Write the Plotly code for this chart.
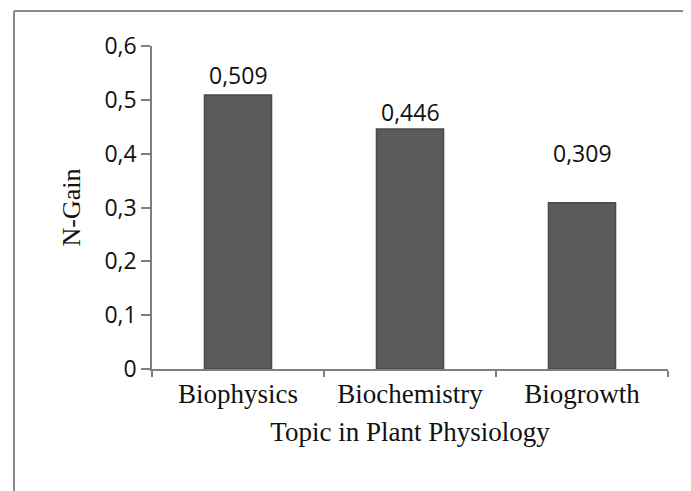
import plotly.graph_objects as go

topics = ["Biophysics", "Biochemistry", "Biogrowth"]
n_gain = [0.509, 0.446, 0.309]
y_ticks = [0, 0.1, 0.2, 0.3, 0.4, 0.5, 0.6]

# the page body adds an 8px margin, so the figure is drawn 8px smaller
OFF = 8
W, H = 691 - OFF, 491 - OFF
L, R, T, B = 152 - OFF, 23, 46 - OFF, 122
pw, ph = W - L - R, H - T - B

# label heights above the bars, as in the source figure
label_shift = [20, 17, 50]

axis_grey = "#7f7f7f"

fig = go.Figure()
fig.add_trace(go.Bar(
    x=topics,
    y=n_gain,
    marker=dict(color="#5b5b5b", line=dict(color="#4a4a4a", width=1.5)),
    width=0.39,
))

for t, v, s in zip(topics, n_gain, label_shift):
    fig.add_annotation(
        x=t, y=v, yshift=s, yanchor="middle",
        text=f"{v:.3f}".replace(".", ","),
        showarrow=False,
        font=dict(family="Open Sans", size=23, color="#111"),
    )

# outer chart frame (left and top edges visible in the reference)
fx = (14 - OFF - L) / pw
fy = (H - B - (11 - OFF)) / ph
fig.add_shape(type="line", xref="paper", yref="paper",
              x0=fx, x1=(W - L) / pw + 0.02, y0=fy, y1=fy,
              line=dict(color="#8a8a8a", width=2))
fig.add_shape(type="line", xref="paper", yref="paper",
              x0=fx, x1=fx, y0=fy, y1=-B / ph - 0.02,
              line=dict(color="#8a8a8a", width=2))

fig.update_layout(
    width=W, height=H,
    margin=dict(l=L, r=R, t=T, b=B),
    plot_bgcolor="white",
    paper_bgcolor="white",
    separators=",.",
    showlegend=False,
    xaxis=dict(
        automargin=False,
        showline=True, linecolor=axis_grey, linewidth=1.5,
        ticks="outside", ticklen=6, tickcolor=axis_grey, tickwidth=1.5,
        tickson="boundaries",
        tickfont=dict(family="Liberation Serif", size=27, color="#111"),
        title=dict(text="Topic in Plant Physiology",
                   font=dict(family="Liberation Serif", size=27, color="#111"),
                   standoff=14),
    ),
    yaxis=dict(
        automargin=False,
        range=[0, 0.6],
        tickvals=y_ticks,
        showline=True, linecolor=axis_grey, linewidth=1.5,
        ticks="outside", ticklen=9, tickcolor=axis_grey, tickwidth=1.5,
        ticksuffix="\u00a0\u00a0",
        showgrid=False, zeroline=False,
        tickfont=dict(family="Open Sans", size=23, color="#111"),
        title=dict(text="N-Gain",
                   font=dict(family="Liberation Serif", size=26, color="#111"),
                   standoff=16),
    ),
)

fig.write_html("out.html")
